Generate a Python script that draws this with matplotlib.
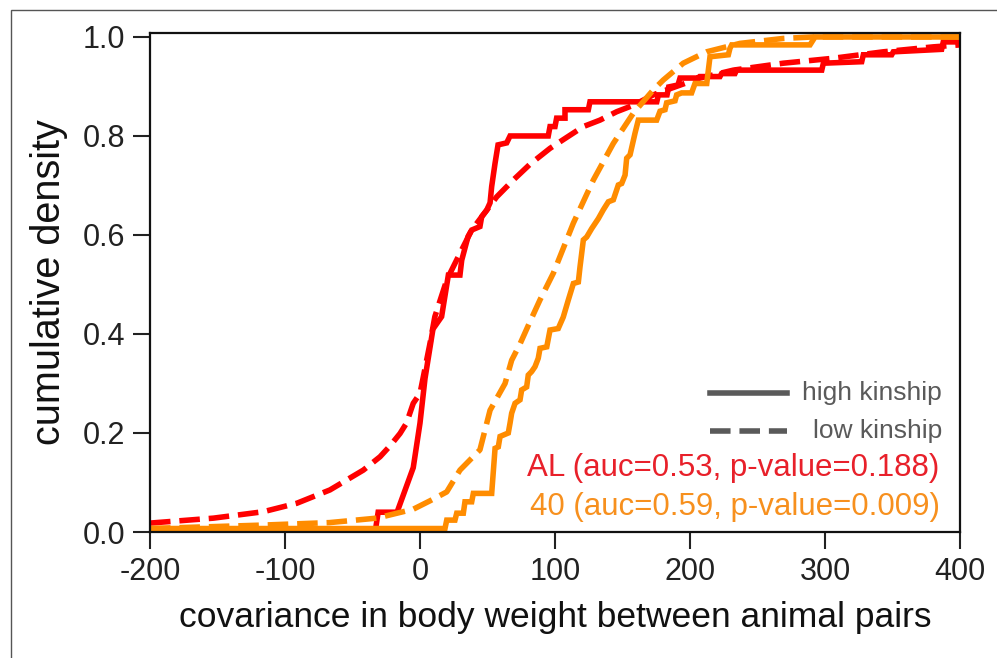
import matplotlib
matplotlib.use("Agg")
import matplotlib.pyplot as plt
from matplotlib.lines import Line2D
from matplotlib.patches import Rectangle

plt.rcParams["font.family"] = ["Liberation Sans", "DejaVu Sans"]
plt.rcParams["axes.unicode_minus"] = False

# --- dane ---
# AL, wysokie pokrewieństwo (linia schodkowa)
al_high_x = [-200, -33, -31, -17, -5, 0, 3.7, 9.6, 16.0, 21.0, 29.6, 30.9, 35.6, 38.3,
             44.4, 45.7, 49.4, 51.9, 53.1, 55.6, 57.8, 64.2, 66.7, 95.0, 96.3, 100.0,
             101.2, 107.4, 107.4, 124.7, 125.9, 175.4, 176.6, 183.0, 184.2, 191.1,
             192.6, 205.9, 207.1, 222.2, 223.4, 233.3, 234.5, 297.6, 298.8, 327.2,
             328.4, 349.4, 350.6, 386.4, 387.6, 400]
al_high_y = [0.004, 0.004, 0.04, 0.04, 0.13, 0.22, 0.31, 0.41, 0.435, 0.519, 0.519, 0.549,
             0.597, 0.61, 0.617, 0.637, 0.65, 0.665, 0.698, 0.745, 0.782, 0.786, 0.80,
             0.80, 0.819, 0.819, 0.836, 0.836, 0.853, 0.853, 0.869, 0.869, 0.883, 0.883,
             0.899, 0.903, 0.917, 0.917, 0.92, 0.92, 0.926, 0.926, 0.933, 0.933, 0.947,
             0.95, 0.964, 0.964, 0.970, 0.975, 0.99, 0.99]

# AL, niskie pokrewieństwo
al_low_x = [-200, -153, -116, -91.3, -66.7, -42, -29.6, -22.2, -14.8, -10, -5, 0, 2.5,
            7.4, 11, 19.8, 29.6, 38.3, 49.4, 56.8, 69.1, 81.5, 96.3, 108.6, 121, 133.3,
            145.7, 158, 172.8, 182.7, 195, 207.4, 232.1, 269.1, 306.2, 343.2, 380.2, 400]
al_low_y = [0.018, 0.028, 0.041, 0.058, 0.085, 0.125, 0.152, 0.174, 0.199, 0.22, 0.26,
            0.28, 0.314, 0.381, 0.435, 0.509, 0.563, 0.61, 0.65, 0.677, 0.711, 0.743,
            0.775, 0.797, 0.819, 0.832, 0.849, 0.862, 0.883, 0.893, 0.905, 0.917, 0.933,
            0.947, 0.957, 0.97, 0.98, 0.984]

# 40, wysokie pokrewieństwo (linia schodkowa)
d40_high_x = [-200, 18.5, 19.8, 25.9, 27.2, 32.1, 33.3, 38.3, 39.5, 53.1, 55.6, 58.0, 59.3,
              65.4, 66.7, 67.9, 70.4, 74.1, 75.3, 79.0, 80.2, 82.7, 85.2, 87.6, 88.9,
              93.9, 96.3, 102.4, 106.1, 109.9, 113.6, 117.3, 118.5, 121.0, 123.5, 127.2,
              132.1, 135.8, 139.5, 143.2, 146.9, 149.4, 151.9, 153.1, 155.6, 159.3,
              161.7, 175.3, 177.8, 181.5, 182.7, 188.9, 190.1, 193.8, 201.2, 203.7,
              212.4, 214.8, 228.4, 229.6, 230.9, 288.9, 292.6, 400]
d40_high_y = [0.007, 0.007, 0.024, 0.024, 0.038, 0.038, 0.061, 0.061, 0.078, 0.078, 0.169,
              0.172, 0.193, 0.2, 0.22, 0.24, 0.26, 0.267, 0.287, 0.293, 0.317, 0.324,
              0.334, 0.351, 0.371, 0.374, 0.408, 0.411, 0.434, 0.469, 0.502, 0.505,
              0.535, 0.590, 0.596, 0.613, 0.633, 0.651, 0.667, 0.671, 0.701, 0.704,
              0.721, 0.755, 0.762, 0.806, 0.832, 0.832, 0.85, 0.853, 0.867, 0.871,
              0.883, 0.887, 0.887, 0.906, 0.906, 0.96, 0.964, 0.977, 0.984, 0.984, 1.0,
              1.0]

# 40, niskie pokrewieństwo
d40_low_x = [-200, -116, -67, -32, -17, -5, 7.4, 19.8, 29.6, 44.4, 51.9, 63, 67.9, 74.1,
             81.5, 88.9, 98.8, 113.6, 128.4, 143.2, 158, 172.8, 180.2, 195, 212.3, 237,
             269, 291, 400]
d40_low_y = [0.007, 0.014, 0.019, 0.028, 0.038, 0.046, 0.063, 0.081, 0.125, 0.166, 0.246,
             0.30, 0.347, 0.38, 0.425, 0.469, 0.523, 0.624, 0.711, 0.785, 0.846, 0.893,
             0.913, 0.947, 0.97, 0.987, 0.997, 1.0, 1.0]

stats_al = "AL (auc=0.53, p-value=0.188)"
stats_40 = "40 (auc=0.59, p-value=0.009)"

red = "#ff0000"
orange = "#ff8c00"
lw = 4.0

fig = plt.figure(figsize=(9.97, 6.58), dpi=100)
ax = fig.add_axes([150 / 997, 126 / 658, 810 / 997, 499 / 658])

ax.plot(al_high_x, al_high_y, color=red, lw=lw, solid_joinstyle="miter")
ax.plot(al_low_x, al_low_y, color=red, lw=lw, ls="--")
ax.plot(d40_low_x, d40_low_y, color=orange, lw=lw, ls="--")
ax.plot(d40_high_x, d40_high_y, color=orange, lw=lw, solid_joinstyle="miter")

ax.set_xlim(-200, 400)
ax.set_ylim(0, 1.008)
ax.set_xticks([-200, -100, 0, 100, 200, 300, 400])
ax.set_yticks([0.0, 0.2, 0.4, 0.6, 0.8, 1.0])
ax.set_yticklabels(["0.0", "0.2", "0.4", "0.6", "0.8", "1.0"])
ax.tick_params(direction="out", length=12, width=1.5, labelsize=22, pad=6,
               colors="#222222")
for s in ax.spines.values():
    s.set_linewidth(1.6)
    s.set_color("#111111")

ax.set_xlabel("covariance in body weight between animal pairs", fontsize=25.5,
              color="#111111", labelpad=10)
ax.set_ylabel("cumulative density", fontsize=28.5, color="#111111", labelpad=10)

# legenda (wyrównana do prawej, jak w oryginale)
gray = "#5a5a5a"
ax.add_line(Line2D([0.691, 0.786], [0.279, 0.279], transform=ax.transAxes,
                   color=gray, lw=lw))
ax.add_line(Line2D([0.691, 0.786], [0.202, 0.202], transform=ax.transAxes,
                   color=gray, lw=lw, ls="--"))
ax.text(0.978, 0.279, "high kinship", transform=ax.transAxes, ha="right",
        va="center", fontsize=19, color=gray)
ax.text(0.978, 0.202, "low kinship", transform=ax.transAxes, ha="right",
        va="center", fontsize=19, color=gray)
ax.text(0.975, 0.128, stats_al, transform=ax.transAxes, ha="right", va="center",
        fontsize=22.5, color="#e8202a")
ax.text(0.975, 0.050, stats_40, transform=ax.transAxes, ha="right", va="center",
        fontsize=22.5, color="#f7901e")

# ramka wokół rysunku
fig.add_artist(Rectangle((11 / 997, -0.1), 2, 0.1 + 648 / 658, transform=fig.transFigure,
                         fill=False, ec="#555555", lw=1))

fig.savefig("out.png", dpi=100)
